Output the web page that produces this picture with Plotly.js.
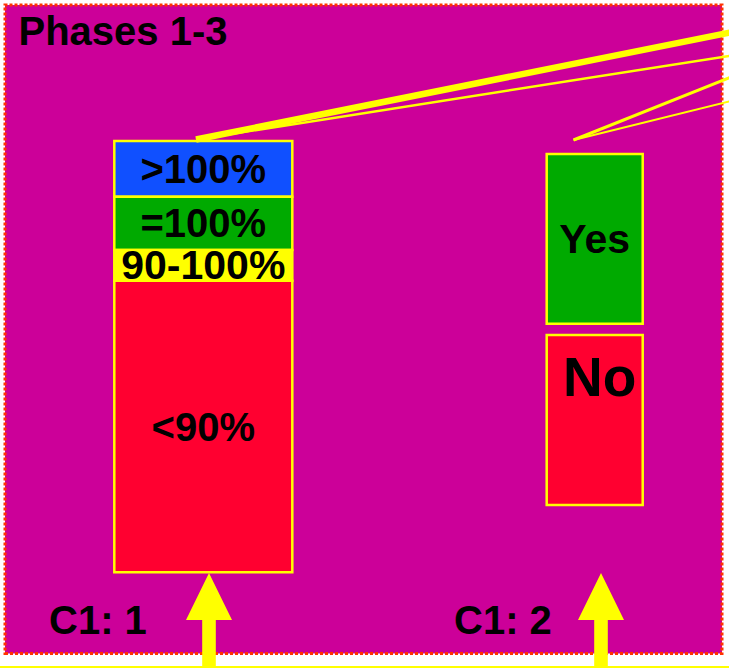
<!DOCTYPE html>
<html>
<head>
<meta charset="utf-8">
<script src="https://cdn.plot.ly/plotly-3.0.1.min.js"></script>
<style>html,body{margin:0;padding:0;background:#fff;}#chart{width:729px;height:668px;}</style>
</head>
<body>
<div id="chart"></div>
<script>
// ---- data ----
const chartTitle = 'Phases 1-3';
const groupLabels = ['C1: 1', 'C1: 2'];
const groupPositions = [1, 2];

// left stacked column, bottom to top
const leftLabels = ['<90%', '90-100%', '=100%', '>100%'];
const leftValues = [67.6, 7.1, 12.4, 12.9];

// right column: two separate blocks
const rightLabels = ['No', 'Yes'];
const rightValues = [39.4, 39.4];
const rightBases = [15.6, 57.6];

// ---- styles ----
const leftColors = ['#FF0030', '#FFFF00', '#00AA00', '#1050FF'];
const leftFontSizes = [40, 41, 40, 40];
const rightColors = ['#FF0030', '#00AA00'];
const outline = '#FFFF00';
const FONT = 'Liberation Sans, Arial, sans-serif';
const W = 729, H = 668;
const px = x => x / W;
const py = y => 1 - y / H;

// left bases from cumulative sums
const leftBases = [];
leftValues.reduce((acc, v, i) => { leftBases[i] = acc; return acc + v; }, 0);

const traces = [];
// draw top segments first so lower segments cover overflowing text
const drawOrder = [3, 2, 1, 0];
drawOrder.forEach(i => {
  traces.push({
    type: 'bar',
    x: [groupPositions[0]],
    y: [leftValues[i]],
    base: [leftBases[i]],
    width: [0.4548],
    text: [leftLabels[i]],
    textposition: 'inside',
    insidetextanchor: 'middle',
    constraintext: 'none',
    textangle: 0,
    insidetextfont: {family: FONT, size: leftFontSizes[i], weight: 'bold', color: '#000'},
    marker: {color: leftColors[i], line: {color: outline, width: 2.5}},
    hoverinfo: 'none',
    showlegend: false
  });
});
rightLabels.forEach((lab, i) => {
  traces.push({
    type: 'bar',
    x: [groupPositions[1]],
    y: [rightValues[i]],
    base: [rightBases[i]],
    width: [0.2453],
    text: [lab === 'Yes' ? lab : ''],
    textposition: 'inside',
    insidetextanchor: 'middle',
    constraintext: 'none',
    textangle: 0,
    insidetextfont: {family: FONT, size: 41, weight: 'bold', color: '#000'},
    marker: {color: rightColors[i], line: {color: outline, width: 2.5}},
    hoverinfo: 'none',
    showlegend: false
  });
});

function arrowPath(cx, tipY, headY, bottomY, headHalf, shaftHalf) {
  return 'M' + px(cx) + ',' + py(tipY) +
    ' L' + px(cx + headHalf) + ',' + py(headY) +
    ' L' + px(cx + shaftHalf) + ',' + py(headY) +
    ' L' + px(cx + shaftHalf) + ',' + py(bottomY) +
    ' L' + px(cx - shaftHalf) + ',' + py(bottomY) +
    ' L' + px(cx - shaftHalf) + ',' + py(headY) +
    ' L' + px(cx - headHalf) + ',' + py(headY) + ' Z';
}

const shapes = [
  // magenta panel with dotted border
  {type: 'rect', xref: 'paper', yref: 'paper', layer: 'below',
   x0: px(5), x1: px(722), y0: py(653.5), y1: py(5),
   fillcolor: '#CC0099', line: {color: '#FF3300', width: 3, dash: '3px,2px'}},
  // bottom yellow rule
  {type: 'line', xref: 'paper', yref: 'paper', x0: 0, x1: 1, y0: py(667), y1: py(667),
   line: {color: '#FFFF00', width: 2}},
  // callout lines
  {type: 'line', xref: 'paper', yref: 'paper', x0: px(196), y0: py(139.5), x1: px(735), y1: py(31.5),
   line: {color: '#FFFF00', width: 6.5}},
  {type: 'line', xref: 'paper', yref: 'paper', x0: px(196), y0: py(139.5), x1: px(735), y1: py(55),
   line: {color: '#FFFF00', width: 2.5}},
  {type: 'line', xref: 'paper', yref: 'paper', x0: px(573.5), y0: py(140), x1: px(735), y1: py(75.5),
   line: {color: '#FFFF00', width: 3}},
  {type: 'line', xref: 'paper', yref: 'paper', x0: px(573.5), y0: py(140), x1: px(735), y1: py(100),
   line: {color: '#FFFF00', width: 2}},
  // arrows
  {type: 'path', xref: 'paper', yref: 'paper', path: arrowPath(209, 573, 620, 668, 23, 6.8),
   fillcolor: '#FFFF00', line: {width: 0}},
  {type: 'path', xref: 'paper', yref: 'paper', path: arrowPath(601, 573, 620, 668, 23, 6.8),
   fillcolor: '#FFFF00', line: {width: 0}}
];

const annotations = [
  {xref: 'paper', yref: 'paper', x: px(46.7), y: py(620.1), xanchor: 'left', yanchor: 'middle',
   text: groupLabels[0], showarrow: false, font: {family: FONT, size: 40, weight: 'bold', color: '#000'}},
  {xref: 'paper', yref: 'paper', x: px(452), y: py(620.1), xanchor: 'left', yanchor: 'middle',
   text: groupLabels[1], showarrow: false, font: {family: FONT, size: 40, weight: 'bold', color: '#000'}},
  {xref: 'x', yref: 'y', x: groupPositions[1], y: rightBases[0] + rightValues[0],
   xanchor: 'center', yanchor: 'top', xshift: 4.4, yshift: -9.2,
   text: rightLabels[0], showarrow: false, font: {family: FONT, size: 55, weight: 'bold', color: '#000'}}
];

const layout = {
  width: W, height: H,
  margin: {l: 0, r: 0, t: 0, b: 0, pad: 0},
  paper_bgcolor: '#FFFFFF',
  plot_bgcolor: 'rgba(0,0,0,0)',
  barmode: 'overlay',
  showlegend: false,
  title: {text: chartTitle, xref: 'container', yref: 'container', x: px(18.5), xanchor: 'left',
          y: 1 - 31.2 / H, yanchor: 'middle', font: {family: FONT, size: 40, weight: 'bold', color: '#000'}},
  xaxis: {range: [0.48058, 2.34312], visible: false, fixedrange: true},
  yaxis: {range: [-22.19, 132.69], visible: false, fixedrange: true},
  shapes: shapes,
  annotations: annotations
};

Plotly.newPlot('chart', traces, layout, {displayModeBar: false, staticPlot: true});
</script>
</body>
</html>
